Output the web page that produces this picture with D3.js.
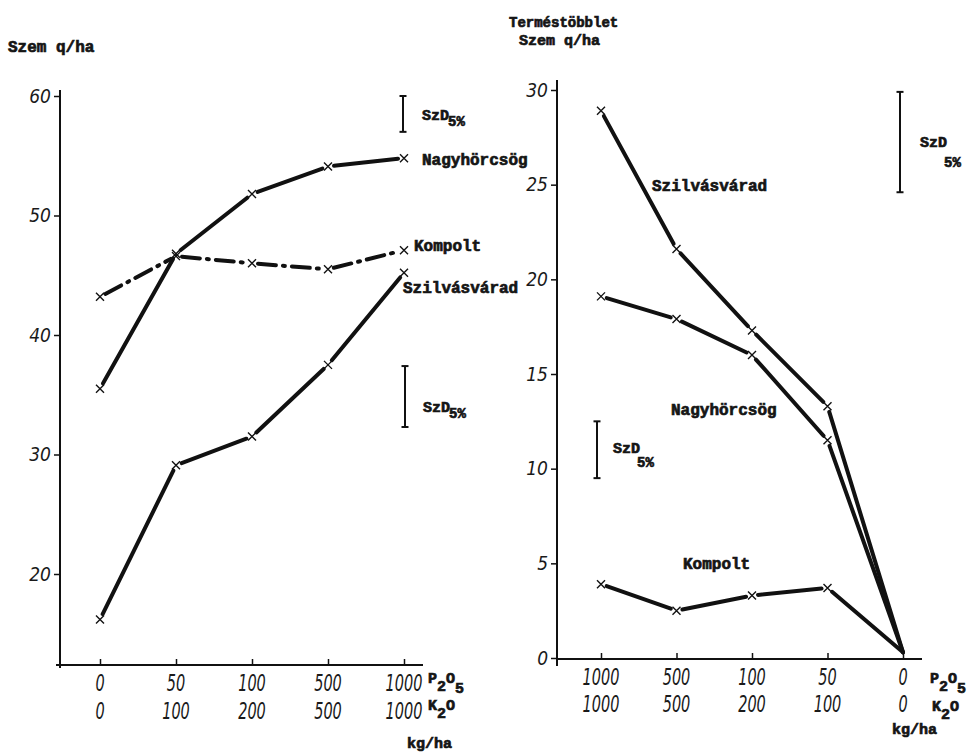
<!DOCTYPE html>
<html>
<head>
<meta charset="utf-8">
<script src="https://cdn.jsdelivr.net/npm/d3@7"></script>
<style>
  html, body { margin: 0; padding: 0; background: #fff; }
  svg { display: block; }
  .mono { font-family: "Liberation Mono", "DejaVu Sans Mono", monospace; font-weight: bold; fill: #151515; stroke: #151515; stroke-width: 0.7px; }
  .num { font-family: "DejaVu Sans Condensed", "DejaVu Sans", sans-serif; font-style: italic; fill: #1a1a1a; }
</style>
</head>
<body>
<svg id="chart" width="973" height="755"></svg>
<script>
// ---- Left panel: grain yield (q/ha) by P2O5 / K2O dose ----
const leftP2O5 = ["0", "50", "100", "500", "1000"];
const leftK2O  = ["0", "100", "200", "500", "1000"];
const leftTicks = [20, 30, 40, 50, 60];
const leftNagyhorcsog = [35.5, 46.8, 51.8, 54.1, 54.8];
const leftKompolt     = [43.2, 46.6, 46.0, 45.5, 47.1];
const leftSzilvasvarad = [16.2, 29.1, 31.5, 37.5, 45.2];
// LSD 5% bars: [top, bottom]
const leftSzD1 = [60.0, 57.0];
const leftSzD2 = [37.4, 32.3];

// ---- Right panel: yield surplus (q/ha), dose decreasing to the right ----
const rightP2O5 = ["1000", "500", "100", "50", "0"];
const rightK2O  = ["1000", "500", "200", "100", "0"];
const rightTicks = [0, 5, 10, 15, 20, 25, 30];
const rightSzilvasvarad = [28.9, 21.6, 17.3, 13.3, 0.3];
const rightNagyhorcsog  = [19.1, 17.9, 16.0, 11.5, 0.3];
const rightKompolt      = [3.9, 2.5, 3.3, 3.7, 0.3];
const rightSzD1 = [29.9, 24.6];
const rightSzD2 = [12.5, 9.5];

const svg = d3.select("#chart");
const ink = "#111";

// scales
const xL = d3.scalePoint().domain(leftP2O5).range([100, 404]);
const yL = d3.scaleLinear().domain([20, 60]).range([574, 96]);
const xR = d3.scalePoint().domain(rightP2O5).range([601, 903]);
const yR = d3.scaleLinear().domain([0, 30]).range([658, 90]);

function drawAxes(g, x, y, ticks, xAxisY, yAxisX, yTop, xEnd, xStart, yBottom) {
  // y axis
  g.append("line").attr("x1", yAxisX).attr("x2", yAxisX).attr("y1", yTop).attr("y2", yBottom)
    .attr("stroke", ink).attr("stroke-width", 2);
  const ya = d3.axisLeft(y).tickValues(ticks).tickSize(6).tickPadding(3).tickFormat(d3.format("d"));
  const gy = g.append("g").attr("transform", `translate(${yAxisX},0)`).call(ya);
  gy.select(".domain").remove();
  gy.selectAll(".tick line").attr("stroke", ink).attr("stroke-width", 1.5);
  gy.selectAll(".tick text").attr("class", "num").attr("font-size", 19);
  // x axis
  g.append("line").attr("x1", xStart).attr("x2", xEnd).attr("y1", xAxisY).attr("y2", xAxisY)
    .attr("stroke", ink).attr("stroke-width", 2);
  const xa = d3.axisTop(x).tickSize(6).tickFormat("");
  const gx = g.append("g").attr("transform", `translate(0,${xAxisY})`).call(xa);
  gx.select(".domain").remove();
  gx.selectAll(".tick line").attr("stroke", ink).attr("stroke-width", 1.5);
}

function tickRows(g, x, row1, row2, y1, y2) {
  row1.forEach((d, i) => {
    g.append("text").attr("class", "num").attr("font-size", 23)
      .attr("text-anchor", "middle")
      .attr("transform", `translate(${x(row1[i])},${y1}) scale(0.7,1)`)
      .text(d);
    g.append("text").attr("class", "num").attr("font-size", 23)
      .attr("text-anchor", "middle")
      .attr("transform", `translate(${x(row1[i])},${y2}) scale(0.7,1)`)
      .text(row2[i]);
  });
}

function series(g, x, y, cats, vals, dash, opts = {}) {
  const pts = cats.map((c, i) => [x(c), y(vals[i])]);
  const gap = 6;
  for (let i = 0; i < pts.length - 1; i++) {
    const [x0, y0] = pts[i], [x1, y1] = pts[i + 1];
    const len = Math.hypot(x1 - x0, y1 - y0);
    const ux = (x1 - x0) / len, uy = (y1 - y0) / len;
    const endGap = (opts.joinLast && i === pts.length - 2) ? 0 : gap;
    g.append("line")
      .attr("x1", x0 + ux * gap).attr("y1", y0 + uy * gap)
      .attr("x2", x1 - ux * endGap).attr("y2", y1 - uy * endGap)
      .attr("stroke", ink).attr("stroke-width", 4).attr("stroke-linecap", "round")
      .attr("stroke-dasharray", dash || null);
  }
  pts.forEach(([px, py], i) => {
    if (opts.joinLast && i === pts.length - 1) return;
    g.append("path").attr("d", `M${px - 4},${py - 4}L${px + 4},${py + 4}M${px - 4},${py + 4}L${px + 4},${py - 4}`)
      .attr("stroke", ink).attr("stroke-width", 1.4).attr("fill", "none");
  });
}

function szd(g, xpos, y, range, tx, ty, subDx, subDy) {
  const [a, b] = range.map(y);
  g.append("line").attr("x1", xpos).attr("x2", xpos).attr("y1", a).attr("y2", b)
    .attr("stroke", ink).attr("stroke-width", 2);
  [a, b].forEach(v => g.append("line").attr("x1", xpos - 3.5).attr("x2", xpos + 3.5)
    .attr("y1", v).attr("y2", v).attr("stroke", ink).attr("stroke-width", 2));
  const t = g.append("text").attr("class", "mono").attr("font-size", 15).attr("x", tx).attr("y", ty);
  t.append("tspan").text("SzD");
  t.append("tspan").attr("dx", subDx).attr("dy", subDy).attr("font-size", 14).text("5%");
}

function label(g, txt, x, y, size = 16) {
  g.append("text").attr("class", "mono").attr("font-size", size).attr("x", x).attr("y", y).text(txt);
}

function oxide(g, x, y, base, sub1, mid, sub2) {
  const t = g.append("text").attr("class", "mono").attr("font-size", 15).attr("x", x).attr("y", y);
  t.append("tspan").text(base);
  t.append("tspan").attr("dy", 8).text(sub1);
  t.append("tspan").attr("dy", -8).text(mid);
  if (sub2) t.append("tspan").attr("dy", 10).text(sub2);
}

// ---------- left panel ----------
const gL = svg.append("g");
drawAxes(gL, xL, yL, leftTicks, 665, 60, 90, 423, 56, 668);
tickRows(gL, xL, leftP2O5, leftK2O, 691, 719);
series(gL, xL, yL, leftP2O5, leftNagyhorcsog);
series(gL, xL, yL, leftP2O5, leftKompolt, "18,7,2,7");
series(gL, xL, yL, leftP2O5, leftSzilvasvarad);
szd(gL, xL("1000") - 1, yL, leftSzD1, 422, 120, -1, 6);
szd(gL, xL("1000") + 1, yL, leftSzD2, 423, 412, -1, 6);
label(gL, "Szem q/ha", 8, 52, 16);
label(gL, "Nagyhörcsög", 422, 165);
label(gL, "Kompolt", 414, 251);
label(gL, "Szilvásvárad", 403, 293);
oxide(gL, 428, 683, "P", "2", "O", "5");
oxide(gL, 428, 710, "K", "2", "O");
label(gL, "kg/ha", 407, 748, 15);

// ---------- right panel ----------
const gR = svg.append("g");
drawAxes(gR, xR, yR, rightTicks, 659, 557, 80, 922, 557, 666);
tickRows(gR, xR, rightP2O5, rightK2O, 685, 712);
series(gR, xR, yR, rightP2O5, rightSzilvasvarad, null, { joinLast: true });
series(gR, xR, yR, rightP2O5, rightNagyhorcsog, null, { joinLast: true });
series(gR, xR, yR, rightP2O5, rightKompolt, null, { joinLast: true });
szd(gR, xR("0") - 3, yR, rightSzD1, 920, 147, -3, 20);
szd(gR, xR("1000") - 4, yR, rightSzD2, 613, 453, -3, 14);
label(gR, "Terméstöbblet", 509, 27, 14);
label(gR, "Szem q/ha", 519, 45, 15);
label(gR, "Szilvásvárad", 652, 191);
label(gR, "Nagyhörcsög", 671, 415);
label(gR, "Kompolt", 683, 569);
oxide(gR, 930, 683, "P", "2", "O", "5");
oxide(gR, 932, 711, "K", "2", "O");
label(gR, "kg/ha", 892, 734, 15);
</script>
</body>
</html>
